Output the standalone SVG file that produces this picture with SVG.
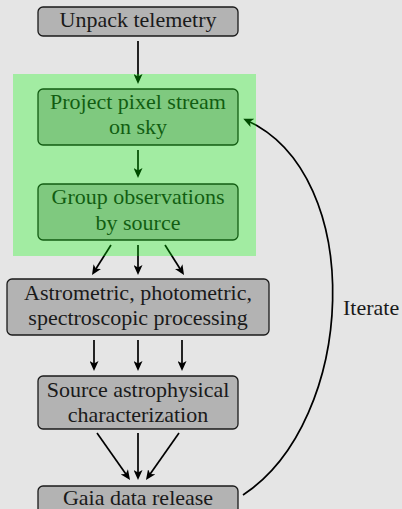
<svg xmlns="http://www.w3.org/2000/svg" width="402" height="509" viewBox="0 0 402 509" font-family="'Liberation Serif', 'Times New Roman', Times, serif">
  <style>
    .box { fill: #b3b3b3; stroke: #1a1a1a; stroke-width: 1.3; }
    .lbl { font-size: 22px; fill: #1a1a1a; text-anchor: middle; }
    .edge { fill: none; stroke: #000; stroke-width: 1.7; marker-end: url(#arr); }
  </style>
  <defs>
    <marker id="arr" viewBox="0 0 10 9" markerWidth="10" markerHeight="9" refX="7" refY="4.5" orient="auto" markerUnits="userSpaceOnUse">
      <path d="M10,4.5 L0,0 L2.6,4.5 L0,9 Z" fill="#000"/>
    </marker>
  </defs>
  <rect x="0" y="0" width="402" height="509" fill="#e5e5e5"/>

  <g id="connectors">
    <line class="edge" x1="138" y1="41" x2="138" y2="81"/>
    <line class="edge" x1="138" y1="150" x2="138" y2="175"/>
    <line class="edge" x1="111" y1="245" x2="93.6" y2="272.5"/>
    <line class="edge" x1="138" y1="245" x2="138" y2="272"/>
    <line class="edge" x1="165" y1="245" x2="182.4" y2="272.5"/>
    <line class="edge" x1="94" y1="340" x2="94" y2="368"/>
    <line class="edge" x1="138" y1="340" x2="138" y2="368"/>
    <line class="edge" x1="182" y1="340" x2="182" y2="368"/>
    <line class="edge" x1="97" y1="433" x2="128.3" y2="477.5"/>
    <line class="edge" x1="138" y1="433" x2="138" y2="477"/>
    <line class="edge" x1="179" y1="433" x2="147.7" y2="477.5"/>
    <path class="edge" d="M243,495 C356,421 368,175 246,120"/>
    <text x="343" y="315" font-family="Liberation Serif, serif" font-size="22" fill="#1a1a1a">Iterate</text>
  </g>

  <g id="unpack">
    <rect class="box" x="38" y="7" width="200" height="29" rx="5"/>
    <text class="lbl" x="138" y="27" font-family="Liberation Serif, serif">Unpack telemetry</text>
  </g>
  <g id="project">
    <rect class="box" x="38" y="89" width="200" height="56" rx="5"/>
    <text class="lbl" x="138" y="109" font-family="Liberation Serif, serif">Project pixel stream</text>
    <text class="lbl" x="138" y="134" font-family="Liberation Serif, serif">on sky</text>
  </g>
  <g id="group">
    <rect class="box" x="38" y="184" width="200" height="56" rx="5"/>
    <text class="lbl" x="138" y="204" font-family="Liberation Serif, serif">Group observations</text>
    <text class="lbl" x="138" y="230" font-family="Liberation Serif, serif">by source</text>
  </g>
  <g id="processing">
    <rect class="box" x="7" y="279" width="262" height="56" rx="5"/>
    <text class="lbl" x="138" y="300" font-family="Liberation Serif, serif">Astrometric, photometric,</text>
    <text class="lbl" x="138" y="325" font-family="Liberation Serif, serif">spectroscopic processing</text>
  </g>
  <g id="characterization">
    <rect class="box" x="38" y="376" width="200" height="53" rx="5"/>
    <text class="lbl" x="138" y="397" font-family="Liberation Serif, serif">Source astrophysical</text>
    <text class="lbl" x="138" y="422" font-family="Liberation Serif, serif">characterization</text>
  </g>
  <g id="release">
    <rect class="box" x="38" y="486" width="200" height="28" rx="5"/>
    <text class="lbl" x="138" y="505" font-family="Liberation Serif, serif">Gaia data release</text>
  </g>

  <g id="highlight">
    <rect x="13" y="74" width="243" height="182" fill="#00ff00" fill-opacity="0.29"/>
  </g>
</svg>
